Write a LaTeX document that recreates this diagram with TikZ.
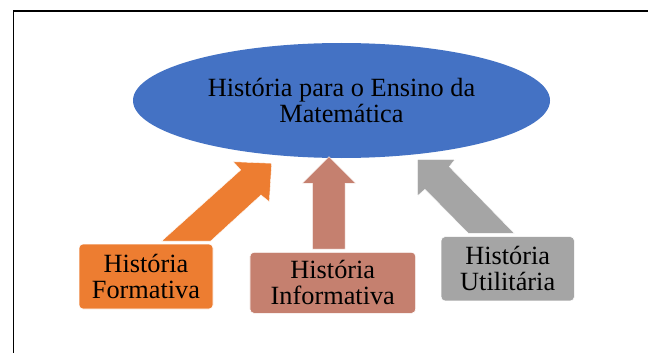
\documentclass[tikz,border=0pt]{standalone}
\usepackage{fontspec}
\setmainfont{Liberation Serif}
\usetikzlibrary{shapes.geometric}
\definecolor{cblue}{HTML}{4472C4}
\definecolor{corange}{HTML}{ED7D31}
\definecolor{csalmon}{HTML}{C5806F}
\definecolor{cgray}{HTML}{A5A5A5}
\begin{document}
\begin{tikzpicture}[x=1pt,y=-1pt,
  txt/.style={font=\fontsize{26.3}{26}\selectfont, align=center, text=black},
  box/.style={txt, rounded corners=4pt, draw=white, line width=0.6pt, inner sep=0pt},
  blockarrow/.style={draw=white, line width=0.4pt}]
\useasboundingbox (0,0) rectangle (648,353);
\fill[white] (0,0) rectangle (648,353);
\draw[line width=1.6pt] (13.5,353) -- (13.5,11) -- (648,11);

\node[ellipse, fill=cblue, minimum width=417pt, minimum height=115pt, inner sep=0pt, txt] (main) at (341.5,100.5) {História para o Ensino da\\Matemática};

\fill[corange, blockarrow] (161.7,241) -- (240.7,170) -- (233.3,161.7) -- (271.7,163.3) -- (269.3,201.7) -- (261,195) -- (210.7,241) -- cycle;
\fill[csalmon, blockarrow] (312.3,249) -- (312.3,183.3) -- (302.3,183.3) -- (329,156.7) -- (355.7,183.3) -- (345,183.3) -- (345,249) -- cycle;
\fill[cgray, blockarrow] (468.3,233.3) -- (425,189.3) -- (417.3,196) -- (417.3,159.3) -- (455,159.3) -- (449.3,166.7) -- (514.3,233.3) -- cycle;

\node[box, fill=corange, minimum width=134pt, minimum height=65pt] (form) at (146,276.5) {História\\Formativa};
\node[box, fill=csalmon, minimum width=165.7pt, minimum height=61pt] (inf) at (332.8,282.8) {História\\Informativa};
\node[box, fill=cgray, minimum width=133.3pt, minimum height=64.3pt] (util) at (507.7,268.8) {História\\Utilitária};
\end{tikzpicture}
\end{document}
